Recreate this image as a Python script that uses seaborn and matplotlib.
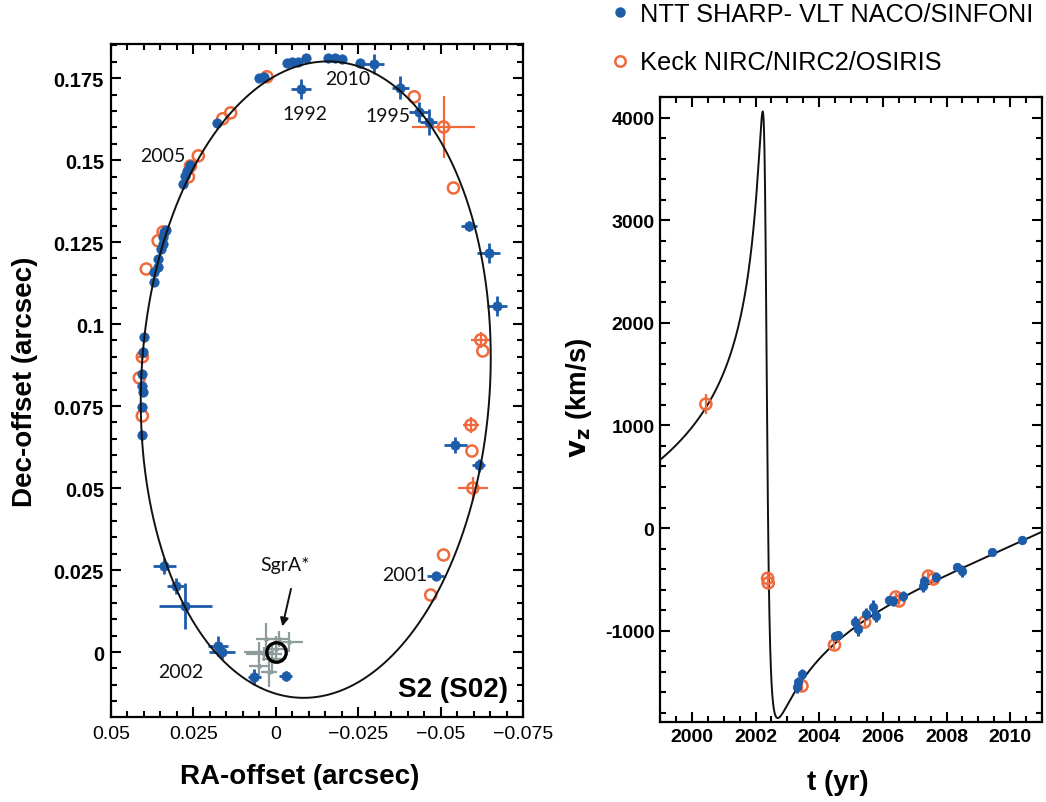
import numpy as np
import matplotlib
matplotlib.use("Agg")
import matplotlib.pyplot as plt
import seaborn as sns
from matplotlib.ticker import MultipleLocator, FuncFormatter
from matplotlib.lines import Line2D

# ---- Keplerian orbit of S2 ----
a_arcsec = 0.1246
ecc = 0.8831
incl_deg = 134.87
Omega_deg = 226.53
omega_deg = 64.98
t_peri = 2002.33
period_yr = 15.80
R0_pc = 8330.0
mass_ra0 = 0.0025      # fitted RA of the central mass
mass_dec0 = 0.0        # fitted Dec of the central mass

# ---- astrometry: NTT SHARP / VLT NACO (arcsec) ----
ntt_ra = [0.0405, 0.0405, 0.0402, 0.0405, 0.0405, 0.0402, 0.0399, 0.0369, 0.0369, 0.0357,
          0.0357, 0.0348, 0.0342, 0.0342, 0.0339, 0.0333, 0.0283, 0.0274, 0.0268, 0.0259,
          0.0179, 0.0051, 0.0036, -0.0033, -0.0048, -0.0068, -0.0092, -0.0158, -0.0179, -0.0202,
          -0.0256, -0.0298, -0.0077, -0.0378, -0.0434, -0.0464, -0.0586, -0.0646, -0.0670, -0.0545,
          -0.0616, -0.0485, 0.0339, 0.0304, 0.0274, 0.0176, 0.0164, 0.0065, -0.0030]
ntt_dec = [0.0662, 0.0747, 0.0793, 0.0811, 0.0848, 0.0915, 0.0961, 0.1129, 0.1159, 0.1174,
           0.1199, 0.1229, 0.1244, 0.1266, 0.1281, 0.1287, 0.1427, 0.1452, 0.1467, 0.1485,
           0.1613, 0.1751, 0.1754, 0.1796, 0.1800, 0.1800, 0.1812, 0.1812, 0.1812, 0.1809,
           0.1796, 0.1793, 0.1717, 0.1720, 0.1647, 0.1617, 0.1299, 0.1217, 0.1055, 0.0631,
           0.0570, 0.0232, 0.0262, 0.0201, 0.0140, 0.0018, 0.0000, -0.0076, -0.0073]
ntt_ra_err = [0.0006] * 31 + [0.0030, 0.0030, 0.0025, 0.0030, 0.0025, 0.0025, 0.0035, 0.0030, 0.0035,
                              0.0020, 0.0025, 0.0035, 0.0025, 0.0080, 0.0030, 0.0040, 0.0020, 0.0020]
ntt_dec_err = [0.0006] * 31 + [0.0030, 0.0030, 0.0035, 0.0030, 0.0040, 0.0015, 0.0030, 0.0030, 0.0025,
                               0.0020, 0.0010, 0.0025, 0.0025, 0.0070, 0.0030, 0.0020, 0.0025, 0.0015]

# ---- astrometry: Keck NIRC / NIRC2 (arcsec) ----
keck_ra = [0.0405, 0.0414, 0.0405, 0.0393, 0.0357, 0.0342, 0.0265, 0.0259, 0.0235, 0.0161,
           0.0137, 0.0027, -0.0420, -0.0509, -0.0539, -0.0622, -0.0628, -0.0592, -0.0595, -0.0598,
           -0.0509, -0.0470]
keck_dec = [0.0720, 0.0836, 0.0900, 0.1168, 0.1254, 0.1281, 0.1449, 0.1482, 0.1513, 0.1626,
            0.1644, 0.1754, 0.1693, 0.1601, 0.1415, 0.0952, 0.0918, 0.0692, 0.0613, 0.0500,
            0.0296, 0.0174]
keck_ra_err = [0, 0, 0.0015, 0, 0, 0, 0, 0, 0, 0,
               0, 0, 0, 0.0095, 0, 0.0030, 0, 0.0025, 0, 0.0045, 0, 0]
keck_dec_err = [0, 0, 0.0010, 0, 0, 0, 0, 0, 0, 0,
                0, 0, 0, 0.0095, 0, 0.0025, 0, 0.0025, 0, 0.0035, 0, 0]

# ---- infrared flares of SgrA* (arcsec) ----
flare_ra = [0.0051, 0.0030, 0.0000, 0.0012, -0.0009, -0.0039, 0.0051, 0.0021, 0.0036]
flare_dec = [0.0000, 0.0040, 0.0009, -0.0021, 0.0040, 0.0030, -0.0043, -0.0061, -0.0006]
flare_ra_err = [0.0045, 0.0030, 0.0040, 0.0030, 0.0035, 0.0045, 0.0030, 0.0025, 0.0055]
flare_dec_err = [0.0030, 0.0050, 0.0040, 0.0045, 0.0025, 0.0030, 0.0030, 0.0045, 0.0020]

# ---- radial velocities (km/s) ----
ntt_t = [2003.30, 2003.33, 2003.46, 2004.51, 2004.60, 2005.14, 2005.21, 2005.46, 2005.68, 2005.78,
         2006.19, 2006.32, 2006.63, 2007.27, 2007.30, 2007.68, 2008.32, 2008.48, 2009.43, 2010.38]
ntt_vz = [-1549, -1500, -1422, -1052, -1042, -916, -984, -838, -769, -857,
          -701, -711, -662, -565, -516, -477, -380, -419, -234, -117]
ntt_vz_err = [60, 50, 50, 40, 40, 60, 70, 60, 70, 60, 40, 50, 50, 60, 50, 50, 40, 60, 30, 40]

keck_t = [2000.44, 2002.38, 2002.40, 2003.46, 2004.48, 2005.43, 2006.41, 2006.51, 2007.43, 2007.59]
keck_vz = [1208, -490, -535, -1539, -1140, -916, -672, -711, -468, -497]
keck_vz_err = [100, 40, 40, 40, 40, 40, 40, 40, 40, 40]

# labels
label_ntt = "NTT SHARP- VLT NACO/SINFONI"
label_keck = "Keck NIRC/NIRC2/OSIRIS"
year_labels = ["1992", "2010", "1995", "2005", "2001", "2002"]
year_label_ra = [-0.0089, -0.0217, -0.0339, 0.0342, -0.0390, 0.0289]
year_label_dec = [0.1641, 0.1748, 0.1635, 0.1513, 0.0235, -0.0058]

BLUE = "#1c5ca8"
ORANGE = "#f06a3c"
GRAY = "#8e9c9c"

# ---- model evaluation ----
inc, Om, om = np.radians([incl_deg, Omega_deg, omega_deg])
TI_A = np.cos(om) * np.cos(Om) - np.sin(om) * np.sin(Om) * np.cos(inc)
TI_B = np.cos(om) * np.sin(Om) + np.sin(om) * np.cos(Om) * np.cos(inc)
TI_F = -np.sin(om) * np.cos(Om) - np.cos(om) * np.sin(Om) * np.cos(inc)
TI_G = -np.sin(om) * np.sin(Om) + np.cos(om) * np.cos(Om) * np.cos(inc)

E_orb = np.linspace(0, 2 * np.pi, 1500)
X = np.cos(E_orb) - ecc
Y = np.sqrt(1 - ecc ** 2) * np.sin(E_orb)
orbit_dec = a_arcsec * (TI_A * X + TI_F * Y) + mass_dec0
orbit_ra = a_arcsec * (TI_B * X + TI_G * Y) + mass_ra0


def eccentric_anomaly(M, e):
    M = np.mod(M, 2 * np.pi)
    E = np.full_like(M, np.pi)
    for _ in range(60):
        E = E - (E - e * np.sin(E) - M) / (1 - e * np.cos(E))
    return E


t_model = np.linspace(1999.0, 2011.0, 8000)
E_t = eccentric_anomaly(2 * np.pi * (t_model - t_peri) / period_yr, ecc)
nu = 2 * np.arctan2(np.sqrt(1 + ecc) * np.sin(E_t / 2), np.sqrt(1 - ecc) * np.cos(E_t / 2))
K_amp = 2 * np.pi * a_arcsec * R0_pc * np.sin(inc) / (period_yr * np.sqrt(1 - ecc ** 2)) * 4.74047
vz_model = K_amp * (np.cos(om + nu) + ecc * np.cos(om))

# ---- figure ----
sns.set_theme(style="ticks")
plt.rcParams["font.family"] = ["Liberation Sans", "DejaVu Sans"]
plt.rcParams.update({
    "axes.linewidth": 1.6,
    "axes.edgecolor": "black",
    "axes.labelcolor": "black",
    "text.color": "black",
    "xtick.color": "black",
    "ytick.color": "black",
})

fig = plt.figure(figsize=(10.46, 8.03), dpi=100)
ax1 = fig.add_axes([111 / 1046, 1 - 718 / 803, 412 / 1046, 673 / 803])
ax2 = fig.add_axes([660 / 1046, 1 - 723 / 803, 382 / 1046, 625 / 803])

# left: orbit on the sky
ax1.errorbar(flare_ra, flare_dec, xerr=flare_ra_err, yerr=flare_dec_err, fmt="none",
             ecolor=GRAY, elinewidth=1.6, capsize=0, zorder=2)
sns.scatterplot(x=flare_ra, y=flare_dec, color=GRAY, s=12, linewidth=0, ax=ax1, zorder=2)
ax1.errorbar(keck_ra, keck_dec, xerr=keck_ra_err, yerr=keck_dec_err, fmt="none",
             ecolor=ORANGE, elinewidth=1.6, capsize=0, zorder=3)
sns.scatterplot(x=keck_ra, y=keck_dec, facecolors="none", edgecolor=ORANGE, linewidth=1.8,
                s=64, ax=ax1, zorder=3)
ax1.errorbar(ntt_ra, ntt_dec, xerr=ntt_ra_err, yerr=ntt_dec_err, fmt="none",
             ecolor=BLUE, elinewidth=2.0, capsize=0, zorder=4)
sns.scatterplot(x=ntt_ra, y=ntt_dec, color=BLUE, edgecolor=BLUE, s=46, linewidth=0.5,
                ax=ax1, zorder=4)
sns.lineplot(x=orbit_ra, y=orbit_dec, sort=False, estimator=None, color="#111111",
             linewidth=1.4, ax=ax1, zorder=5)
ax1.plot([0], [0], marker="o", ms=14, mfc="none", mec="black", mew=2.4, zorder=6)

for txt, xr, yd in zip(year_labels, year_label_ra, year_label_dec):
    ax1.text(xr, yd, txt, ha="center", va="center", fontsize=14, family="Lato", color="#111111")
ax1.text(-0.0027, 0.0268, "SgrA*", ha="center", va="center", fontsize=14, family="Lato",
         color="#111111")
ax1.annotate("", xy=(-0.0018, 0.0070), xytext=(-0.0048, 0.0201),
             arrowprops=dict(arrowstyle="-|>", color="#111111", lw=1.4, mutation_scale=12))
ax1.text(-0.0705, -0.0113, "S2 (S02)", ha="right", va="center", fontsize=20, fontweight="bold")

ax1.set_xlim(0.05, -0.075)
ax1.set_ylim(-0.0198, 0.1854)
ax1.xaxis.set_major_locator(MultipleLocator(0.025))
ax1.xaxis.set_minor_locator(MultipleLocator(0.005))
ax1.yaxis.set_major_locator(MultipleLocator(0.025))
ax1.yaxis.set_minor_locator(MultipleLocator(0.005))


def fmt_g(v, _pos):
    s = f"{v:.3f}".rstrip("0").rstrip(".")
    if s in ("-0", ""):
        s = "0"
    return s.replace("-", "\u2212")


ax1.xaxis.set_major_formatter(FuncFormatter(fmt_g))
ax1.yaxis.set_major_formatter(FuncFormatter(fmt_g))
ax1.tick_params(which="both", direction="in", top=True, right=True, width=1.5)
ax1.tick_params(which="major", length=7)
ax1.tick_params(which="minor", length=4)
ax1.tick_params(axis="x", labelsize=14, pad=6)
ax1.tick_params(axis="y", labelsize=14.5, pad=5)
for lab in ax1.get_yticklabels():
    lab.set_fontweight("bold")
ax1.set_xlabel("RA-offset (arcsec)", fontsize=20, fontweight="bold")
ax1.set_ylabel("Dec-offset (arcsec)", fontsize=20, fontweight="bold")
ax1.xaxis.set_label_coords(0.459, -0.068)
ax1.yaxis.set_label_coords(-0.178, 0.50)

# right: line-of-sight velocity
sns.lineplot(x=t_model, y=vz_model, sort=False, estimator=None, color="#111111",
             linewidth=1.4, ax=ax2, zorder=3)
ax2.errorbar(keck_t, keck_vz, yerr=keck_vz_err, fmt="none", ecolor=ORANGE, elinewidth=1.6,
             capsize=0, zorder=4)
sns.scatterplot(x=keck_t, y=keck_vz, facecolors="none", edgecolor=ORANGE, linewidth=1.8,
                s=64, ax=ax2, zorder=4)
ax2.errorbar(ntt_t, ntt_vz, yerr=ntt_vz_err, fmt="none", ecolor=BLUE, elinewidth=2.2,
             capsize=0, zorder=5)
sns.scatterplot(x=ntt_t, y=ntt_vz, color=BLUE, edgecolor=BLUE, s=38, linewidth=0.5,
                ax=ax2, zorder=5)

ax2.set_xlim(1999, 2011)
ax2.set_ylim(-1890, 4200)
ax2.xaxis.set_major_locator(MultipleLocator(2))
ax2.xaxis.set_minor_locator(MultipleLocator(0.5))
ax2.yaxis.set_major_locator(MultipleLocator(1000))
ax2.yaxis.set_minor_locator(MultipleLocator(200))
ax2.yaxis.set_major_formatter(FuncFormatter(lambda v, p: f"{v:.0f}"))
ax2.tick_params(which="both", direction="in", top=True, right=True, width=1.5)
ax2.tick_params(which="major", length=7)
ax2.tick_params(which="minor", length=4)
ax2.tick_params(axis="both", labelsize=14, pad=4)
for lab in ax2.get_xticklabels() + ax2.get_yticklabels():
    lab.set_fontweight("bold")
ax2.set_xlabel("t (yr)", fontsize=20, fontweight="bold")
ax2.set_ylabel(r"$\mathbf{v_z}$ (km/s)", fontsize=20, fontweight="bold")
ax2.xaxis.set_label_coords(0.466, -0.075)
ax2.yaxis.set_label_coords(-0.172, 0.52)

handles = [Line2D([], [], linestyle="", marker="o", ms=6.5, mfc=BLUE, mec=BLUE),
           Line2D([], [], linestyle="", marker="o", ms=7.5, mfc="none", mec=ORANGE, mew=1.8)]
fig.legend(handles, [label_ntt, label_keck], loc="upper left",
           bbox_to_anchor=(592 / 1046, 1.018), frameon=False, fontsize=18.3,
           handlelength=0.8, handletextpad=0.4, labelspacing=0.95, borderpad=0.2)

fig.savefig("out.png", dpi=100, facecolor="white")
